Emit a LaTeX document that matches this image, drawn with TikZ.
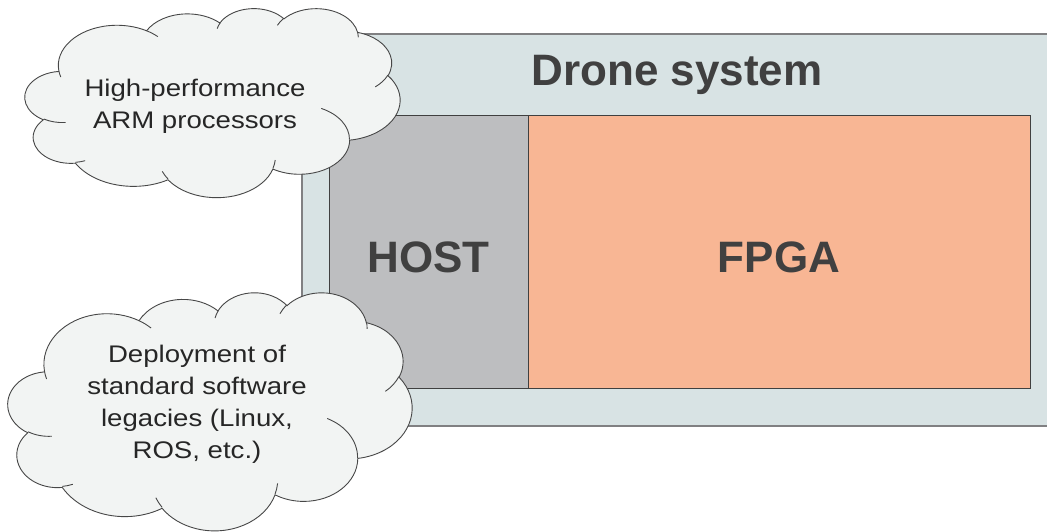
\documentclass[tikz,border=0pt]{standalone}
\usepackage{fontspec}
\setmainfont{Liberation Sans}
\newfontfamily\cloudfont[FakeStretch=1.15]{Liberation Sans}
\usepackage{xcolor}
\usepackage{tikz}

\definecolor{sysfill}{HTML}{D8E3E4}
\definecolor{sysline}{HTML}{808082}
\definecolor{hostfill}{HTML}{BDBEC0}
\definecolor{fpgafill}{HTML}{F8B694}
\definecolor{cloudfill}{HTML}{F2F4F3}
\definecolor{txtgray}{HTML}{404040}

\tikzset{
  % arc of an ellipse, angles measured as seen (not parametric)
  pptarc/.style n args={4}{x radius=#1, y radius=#2,
    start angle={atan2(#1*sin(#3),#2*cos(#3))},
    delta angle={mod(atan2(#1*sin(#3+#4),#2*cos(#3+#4))-atan2(#1*sin(#3),#2*cos(#3))+720,360)}},
  cloudline/.style={draw=black!72, line width=0.9pt},
  % cloud on a 1000 x 1000 grid, y downwards
  pptcloud/.pic={
    \draw[cloudline, fill=cloudfill] (90.28,332.64)
      arc[pptarc={156.32}{212.73}{-190.487}{123.781}]
      arc[pptarc={123.45}{168.22}{-144.102}{89.945}]
      arc[pptarc={101.04}{137.62}{-145.808}{99.723}]
      arc[pptarc={112.43}{152.66}{-130.986}{117.242}]
      arc[pptarc={123.45}{168.36}{-78.709}{109.027}]
      arc[pptarc={156.83}{213.43}{-46.267}{130.269}]
      arc[pptarc={133.91}{182.11}{0.625}{114.033}]
      arc[pptarc={156.30}{213.31}{22.452}{115.173}]
      arc[pptarc={178.70}{244.05}{66.243}{75.711}]
      arc[pptarc={100.93}{136.99}{-274.942}{146.736}]
      arc[pptarc={100.58}{137.62}{-246.829}{152.520}]
      -- cycle;
    \draw[cloudline]
      (108.63,605.95) arc[pptarc={100.58}{137.62}{86.742}{26.430}]
      (160.37,807.85) arc[pptarc={100.93}{136.99}{73.610}{11.447}]
      (381.44,904.86) arc[pptarc={156.30}{213.31}{137.624}{14.081}]
      (667.29,804.42) arc[pptarc={156.30}{213.31}{6.453}{15.998}]
      (790.02,531.34) arc[pptarc={133.91}{182.11}{-70.292}{70.917}]
      (967.55,355.42) arc[pptarc={123.45}{168.36}{30.318}{27.752}]
      (887.13,125.60) arc[pptarc={112.43}{152.66}{-13.744}{14.859}]
      (673.10,91.48) arc[pptarc={112.43}{152.66}{-149.181}{18.195}]
      (512.52,109.26) arc[pptarc={101.04}{137.62}{-163.494}{17.686}]
      (324.07,120.19) arc[pptarc={156.32}{212.73}{-66.707}{12.319}]
      (95.53,365.49) arc[pptarc={156.32}{212.73}{157.654}{11.858}];
  }
}

\begin{document}
\begin{tikzpicture}[x=1pt, y=-1pt,
  box/.style={draw=black!75, line width=1pt, minimum height=273pt, inner sep=0pt,
    text height=41pt, text depth=0pt,
    font=\fontsize{44}{50}\selectfont\bfseries, text=txtgray},
  bubbletext/.style={align=center, font=\cloudfont\fontsize{24}{32}\selectfont, text=black!85}]

\useasboundingbox (0,0) rectangle (1047,531);

\coordinate (S1) at (302,34);
\coordinate (S2) at (1070,426);

\draw[fill=sysfill, draw=sysline, line width=1.5pt] (S1) rectangle (S2);
\node[font=\fontsize{44}{50}\selectfont\bfseries, text=txtgray] (title) at (677,75) {Drone system};

\node[box, fill=hostfill, minimum width=199pt] (host) at (428.5,251.5) {HOST};
\node[box, fill=fpgafill, minimum width=502pt] (fpga) at (779,251.5) {FPGA};

% clouds
\coordinate (armpos) at (25,8);
\coordinate (legacypos) at (8,292);
\pic[x=0.375pt, y=-0.189pt] at (armpos) {pptcloud};
\pic[x=0.404pt, y=-0.238pt] at (legacypos) {pptcloud};

\node[bubbletext] (armtext) at (195,106) {High-performance\\ARM processors};
\node[bubbletext] (legacytext) at (197,404) {Deployment of\\standard software\\legacies (Linux,\\ROS, etc.)};

\end{tikzpicture}
\end{document}
